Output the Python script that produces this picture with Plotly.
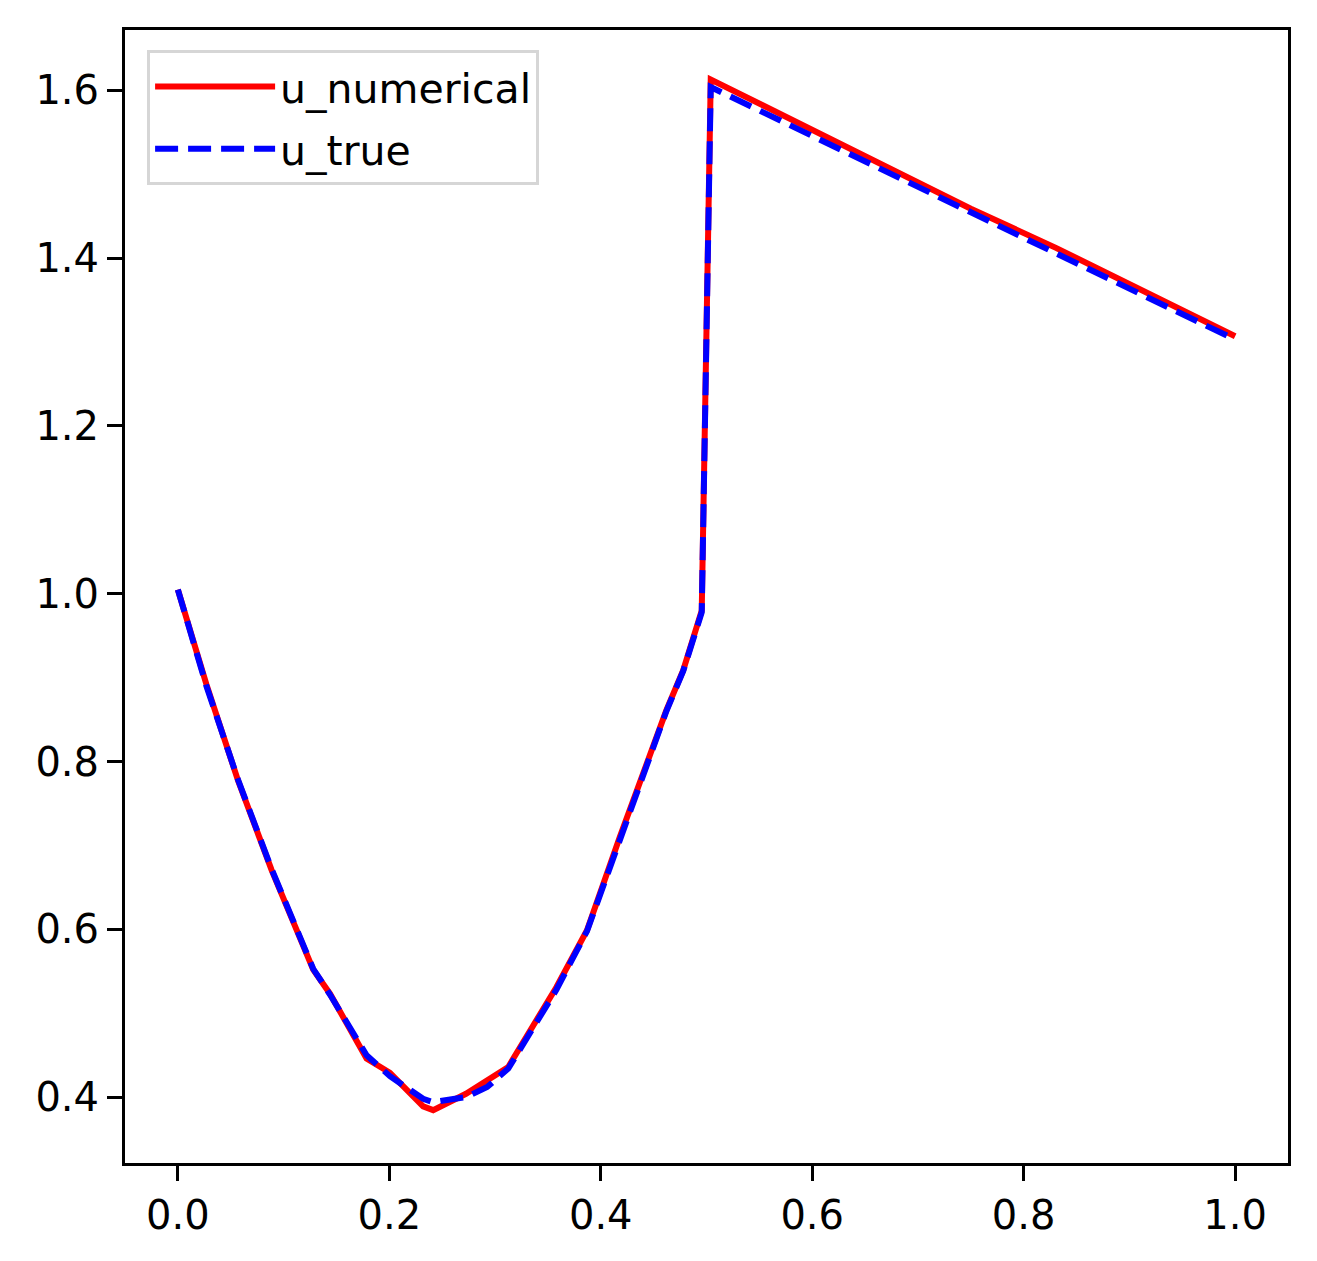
import plotly.graph_objects as go

# mesh points and solution values
x_mesh = [0.0, 0.027, 0.057, 0.0886, 0.128, 0.144, 0.1785, 0.2006, 0.232, 0.2415,
          0.2725, 0.2925, 0.3125, 0.358, 0.387, 0.418, 0.437, 0.462, 0.478, 0.4955,
          0.504, 0.58, 0.66, 0.75, 0.831, 0.92, 1.0]

u_numerical = [1.005, 0.892, 0.777, 0.671, 0.552, 0.523, 0.446, 0.429, 0.389, 0.3845,
               0.404, 0.420, 0.436, 0.531, 0.599, 0.710, 0.774, 0.861, 0.909, 0.980,
               1.613, 1.565, 1.516, 1.459, 1.412, 1.357, 1.307]

u_true = [1.005, 0.890, 0.778, 0.672, 0.553, 0.522, 0.450, 0.425, 0.398, 0.394,
          0.400, 0.412, 0.434, 0.528, 0.598, 0.708, 0.773, 0.860, 0.908, 0.978,
          1.604, 1.558, 1.509, 1.455, 1.406, 1.352, 1.303]

x_ticks = [0.0, 0.2, 0.4, 0.6, 0.8, 1.0]
y_ticks = [0.4, 0.6, 0.8, 1.0, 1.2, 1.4, 1.6]

fig = go.Figure()
fig.add_trace(go.Scatter(x=x_mesh, y=u_numerical, mode='lines', name='u_numerical',
                         legendgroup='a', line=dict(color='red', width=6)))
fig.add_trace(go.Scatter(x=x_mesh, y=u_true, mode='lines', name='u_true',
                         legendgroup='b', line=dict(color='blue', width=6, dash='23px,10px')))

axis_style = dict(showline=True, mirror=True, linecolor='black', linewidth=3,
                  ticks='outside', ticklen=15, tickwidth=3, tickcolor='black',
                  showgrid=False, zeroline=False, tickformat='.1f',
                  tickfont=dict(family='DejaVu Sans', size=40, color='black'))

# page body adds ~8px offset, so margins are shifted up/left
fig.update_layout(
    width=1317, height=1261,
    margin=dict(l=117, r=37, t=22, b=106),
    paper_bgcolor='white', plot_bgcolor='white',
    xaxis=dict(range=[-0.05, 1.05], tickvals=x_ticks, **axis_style),
    yaxis=dict(range=[0.3215, 1.672], tickvals=y_ticks, **axis_style),
    legend=dict(x=0.019, y=0.982, xanchor='left', yanchor='top',
                bgcolor='white', bordercolor='#d6d6d6', borderwidth=3,
                font=dict(family='DejaVu Sans', size=41, color='black'),
                itemwidth=120, traceorder='grouped', tracegroupgap=6),
    showlegend=True,
)

fig.write_html("out.html")
